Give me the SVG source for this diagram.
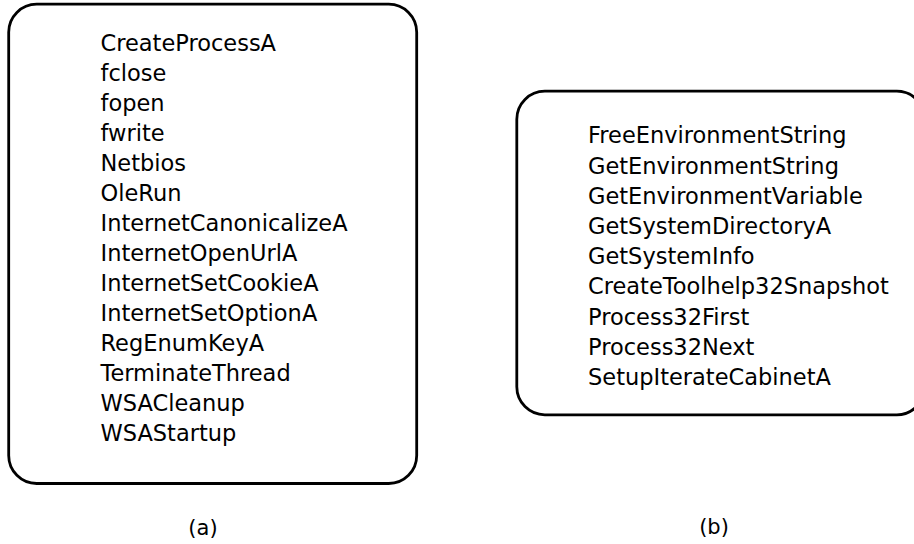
<svg xmlns="http://www.w3.org/2000/svg" width="914" height="544" viewBox="0 0 914 544">
<style>
.box{fill:#fff;stroke:#000;stroke-width:2.8}
.t{font-family:"DejaVu Sans",sans-serif;font-size:22.5px;fill:#000}
.lbl{font-family:"DejaVu Sans",sans-serif;font-size:21px;fill:#000;text-anchor:middle}
</style>
<rect width="914" height="544" fill="#fff"/>
<g id="node-a">
<rect class="box" x="8.7" y="4.2" width="408" height="479.3" rx="28" ry="28"/>
<text class="t" x="100.5">
<tspan x="100.5" y="50.7">CreateProcessA</tspan>
<tspan x="100.5" y="80.7">fclose</tspan>
<tspan x="100.5" y="110.7">fopen</tspan>
<tspan x="100.5" y="140.7">fwrite</tspan>
<tspan x="100.5" y="170.7">Netbios</tspan>
<tspan x="100.5" y="200.7">OleRun</tspan>
<tspan x="100.5" y="230.7">InternetCanonicalizeA</tspan>
<tspan x="100.5" y="260.7">InternetOpenUrlA</tspan>
<tspan x="100.5" y="290.7">InternetSetCookieA</tspan>
<tspan x="100.5" y="320.7">InternetSetOptionA</tspan>
<tspan x="100.5" y="350.7">RegEnumKeyA</tspan>
<tspan x="100.5" y="380.7">TerminateThread</tspan>
<tspan x="100.5" y="410.7">WSACleanup</tspan>
<tspan x="100.5" y="440.7">WSAStartup</tspan>
</text>
<text class="lbl" x="203" y="535">(a)</text>
</g>
<g id="node-b">
<rect class="box" x="516.8" y="91.2" width="408" height="323.6" rx="28" ry="28"/>
<text class="t" x="588">
<tspan x="588" y="143.3">FreeEnvironmentString</tspan>
<tspan x="588" y="173.5">GetEnvironmentString</tspan>
<tspan x="588" y="203.7">GetEnvironmentVariable</tspan>
<tspan x="588" y="233.9">GetSystemDirectoryA</tspan>
<tspan x="588" y="264.1">GetSystemInfo</tspan>
<tspan x="588" y="294.3">CreateToolhelp32Snapshot</tspan>
<tspan x="588" y="324.5">Process32First</tspan>
<tspan x="588" y="354.7">Process32Next</tspan>
<tspan x="588" y="384.9">SetupIterateCabinetA</tspan>
</text>
<text class="lbl" x="714" y="534">(b)</text>
</g>
<g id="connectors"></g>
</svg>
